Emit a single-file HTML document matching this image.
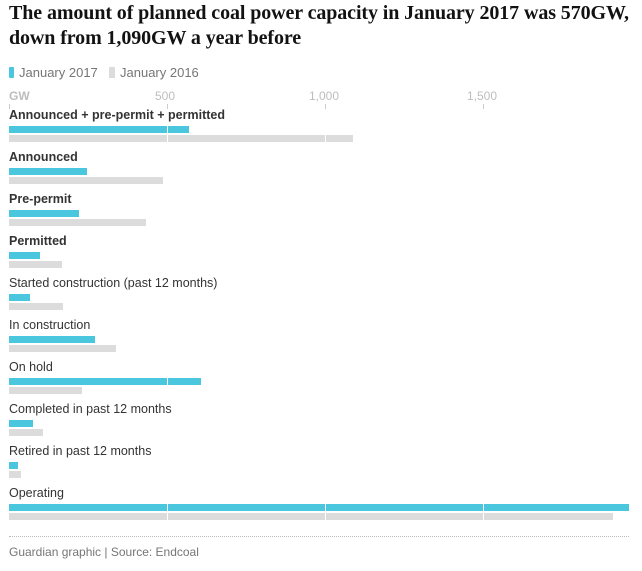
<!DOCTYPE html>
<html><head><style>
body{margin:0;width:642px;height:571px;background:#fff;position:relative;overflow:hidden;font-family:"Liberation Sans",sans-serif}
.t{position:absolute;left:9px;top:1px;font:bold 20px/25px "Liberation Serif",serif;color:#121212;letter-spacing:-0.1px;white-space:nowrap}
.a{position:absolute;font-size:12px;color:#bdbdbd;top:89px}
.tick{position:absolute;top:104px;width:1px;height:5px;background:#ccc}
.l{position:absolute;left:9px;font-size:12.5px;color:#333;z-index:2}
.b{position:absolute;left:9px;height:7px}
.c{background:#4bc6df}.g{background:#dcdcdc}
.grid{position:absolute;top:110px;width:1px;height:410px;background:#fff;z-index:1}
</style></head><body>
<div class="t">The amount of planned coal power capacity in January 2017 was 570GW,<br>down from 1,090GW a year before</div>
<div style="position:absolute;left:9px;top:67px;width:5px;height:11px;background:#4bc6df;border-radius:1px"></div>
<div style="position:absolute;left:19px;top:65px;font-size:13px;color:#767676">January 2017</div>
<div style="position:absolute;left:109px;top:67px;width:6px;height:11px;background:#dcdcdc"></div>
<div style="position:absolute;left:120px;top:65px;font-size:13px;color:#767676">January 2016</div>
<div class="a" style="left:9px;font-weight:bold">GW</div>
<div class="a" style="left:155px">500</div>
<div class="a" style="left:309px">1,000</div>
<div class="a" style="left:467px">1,500</div>
<div class="tick" style="left:9px"></div><div class="tick" style="left:167px"></div><div class="tick" style="left:325px"></div><div class="tick" style="left:483px"></div>

<div class="l" style="top:108px;font-weight:bold">Announced + pre-permit + permitted</div>
<div class="b c" style="top:126px;width:180px"></div><div class="b g" style="top:135px;width:344px"></div>
<div class="l" style="top:150px;font-weight:bold">Announced</div>
<div class="b c" style="top:168px;width:78px"></div><div class="b g" style="top:177px;width:154px"></div>
<div class="l" style="top:192px;font-weight:bold">Pre-permit</div>
<div class="b c" style="top:210px;width:70px"></div><div class="b g" style="top:219px;width:137px"></div>
<div class="l" style="top:234px;font-weight:bold">Permitted</div>
<div class="b c" style="top:252px;width:31px"></div><div class="b g" style="top:261px;width:53px"></div>
<div class="l" style="top:276px">Started construction (past 12 months)</div>
<div class="b c" style="top:294px;width:21px"></div><div class="b g" style="top:303px;width:54px"></div>
<div class="l" style="top:318px">In construction</div>
<div class="b c" style="top:336px;width:86px"></div><div class="b g" style="top:345px;width:107px"></div>
<div class="l" style="top:360px">On hold</div>
<div class="b c" style="top:378px;width:192px"></div><div class="b g" style="top:387px;width:73px"></div>
<div class="l" style="top:402px">Completed in past 12 months</div>
<div class="b c" style="top:420px;width:24px"></div><div class="b g" style="top:429px;width:34px"></div>
<div class="l" style="top:444px">Retired in past 12 months</div>
<div class="b c" style="top:462px;width:9px"></div><div class="b g" style="top:471px;width:12px"></div>
<div class="l" style="top:486px">Operating</div>
<div class="b c" style="top:504px;width:620px"></div><div class="b g" style="top:513px;width:604px"></div>

<div class="grid" style="left:167px"></div><div class="grid" style="left:325px"></div><div class="grid" style="left:483px"></div>
<div style="position:absolute;left:9px;top:536px;width:620px;border-top:1px dotted #bbb"></div>
<div style="position:absolute;left:9px;top:545px;font-size:12px;color:#767676">Guardian graphic | Source: Endcoal</div>
</body></html>
